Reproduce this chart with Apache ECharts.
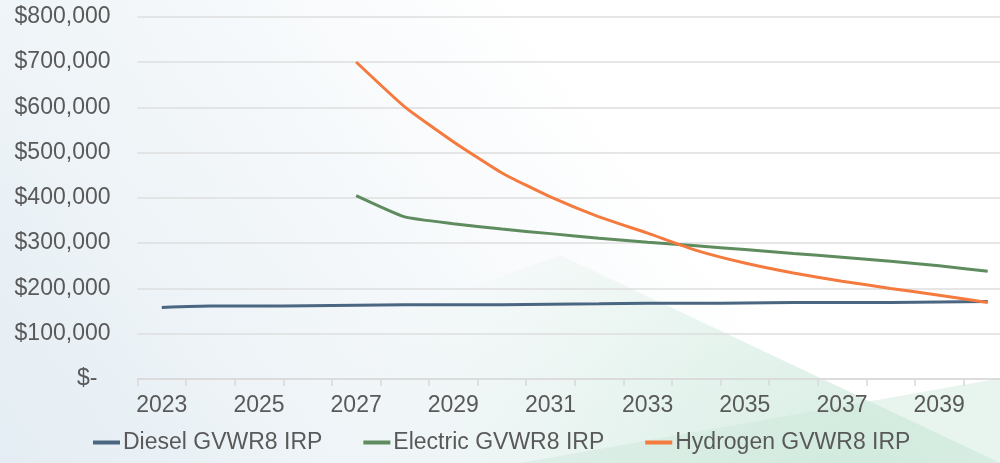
<!DOCTYPE html>
<html>
<head>
<meta charset="utf-8">
<script src="https://cdn.jsdelivr.net/npm/echarts@6/dist/echarts.min.js"></script>
<style>html,body{margin:0;padding:0;background:#fff;overflow:hidden}#c{width:1013px;height:463px}</style>
</head>
<body>
<div id="c"></div>
<script>
const years = ['2023','2024','2025','2026','2027','2028','2029','2030','2031','2032','2033','2034','2035','2036','2037','2038','2039','2040'];
const diesel   = [158000,161000,161000,162000,163000,164000,164000,164000,165000,166000,167000,167000,168000,169000,169000,169000,170000,171000];
const electric = [null,null,null,null,405000,358000,343000,331000,321000,311000,302000,294000,286000,277000,269000,260000,250000,238000];
const hydrogen = [null,null,null,null,700000,601000,524000,455000,402000,358000,322000,284000,256000,234000,216000,200000,185000,169000];
const seriesNames = ['Diesel GVWR8 IRP','Electric GVWR8 IRP','Hydrogen GVWR8 IRP'];
const colors = ['#4B6681','#5E8C5F','#F47A3E'];

const chart = echarts.init(document.getElementById('c'));
const font = "'Liberation Sans', Arial, sans-serif";
const mk = (name, data, color) => ({
  name, type: 'line', data, smooth: 0.15, showSymbol: false, symbol: 'none',
  lineStyle: { color, width: 3 }, itemStyle: { color }, connectNulls: false
});
chart.setOption({
  animation: false,
  textStyle: { fontFamily: font },
  graphic: [
    { type: 'rect', z: -10, shape: { x: 0, y: 0, width: 1013, height: 463 },
      style: { fill: new echarts.graphic.LinearGradient(0, 1, 0.55, 0.1, [
        { offset: 0, color: '#e4edf3' }, { offset: 1, color: '#ffffff' }]) } },
    { type: 'polygon', z: -9, shape: { points: [[560, 255], [1013, 469], [0, 463]] },
      style: { fill: new echarts.graphic.RadialGradient(860, 490, 520, [
        { offset: 0, color: 'rgba(205,233,220,0.85)' }, { offset: 0.5, color: 'rgba(212,236,225,0.45)' },
        { offset: 0.8, color: 'rgba(215,236,226,0.12)' }, { offset: 1, color: 'rgba(215,236,226,0)' }], true) } },
    { type: 'polygon', z: -8, shape: { points: [[520, 463], [1013, 376], [1013, 463]] },
      style: { fill: 'rgba(205,231,218,0.45)' } }
  ],
  grid: { left: 137.5, right: 1, top: 16.7, bottom: 84, containLabel: false },
  legend: {
    left: 93, top: 431, itemWidth: 27, itemHeight: 4, itemGap: 41, padding: 0,
    icon: 'rect',
    textStyle: { fontSize: 23, color: '#595959', fontFamily: font, padding: [0, 0, 0, -2] },
    data: seriesNames
  },
  xAxis: {
    type: 'category', data: years, boundaryGap: true,
    axisLine: { lineStyle: { color: '#d9d9d9', width: 1.5 } },
    axisTick: { show: true, interval: 0, length: 7, lineStyle: { color: '#d9d9d9', width: 1.5 } },
    axisLabel: { interval: 1, fontSize: 23, color: '#595959', margin: 15, fontFamily: font }
  },
  yAxis: {
    type: 'value', min: 0, max: 800000, interval: 100000,
    axisLine: { show: false }, axisTick: { show: false },
    splitLine: { lineStyle: { color: '#dedede', width: 1.5 } },
    axisLabel: {
      fontSize: 23, color: '#595959', margin: 27, fontFamily: font,
      formatter: v => v === 0 ? '{z|$-}' : '$' + v.toLocaleString('en-US'),
      rich: { z: { fontSize: 23, color: '#595959', fontFamily: font, padding: [0, 13, 0, 0] } }
    }
  },
  series: [
    mk(seriesNames[0], diesel, colors[0]),
    mk(seriesNames[1], electric, colors[1]),
    mk(seriesNames[2], hydrogen, colors[2])
  ]
});
</script>
</body>
</html>
